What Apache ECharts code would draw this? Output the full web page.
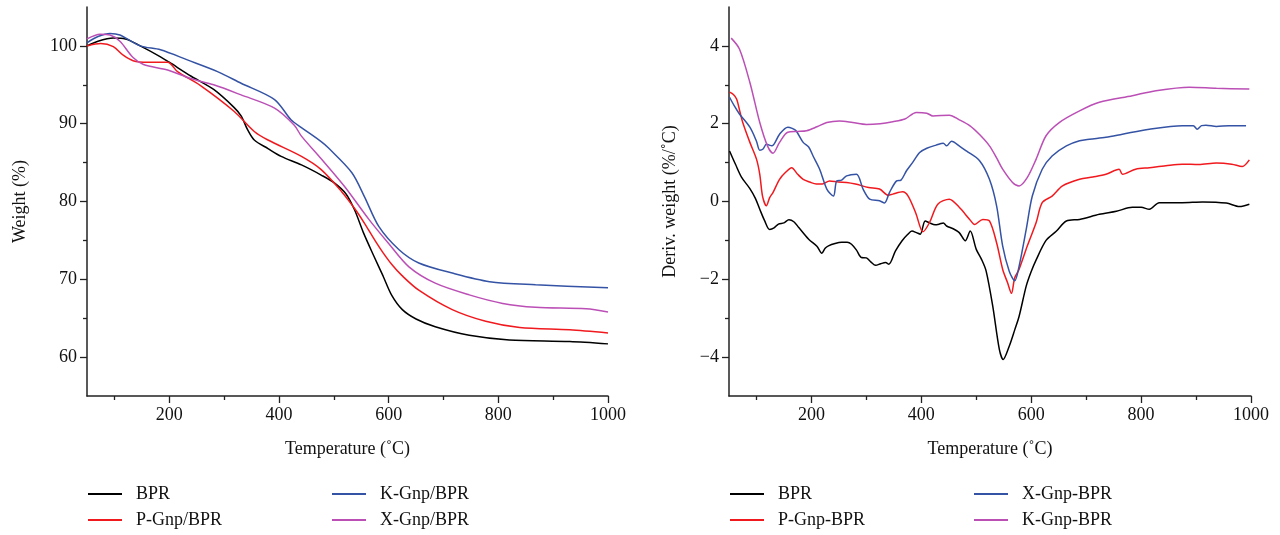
<!DOCTYPE html>
<html><head><meta charset="utf-8">
<script src="https://cdn.jsdelivr.net/npm/echarts@6/dist/echarts.min.js"></script>
<style>html,body{margin:0;padding:0;background:#fff}#c{width:1280px;height:535px}</style>
</head><body><div id="c"></div>
<script>
// ---- Left panel: TGA (Weight %) ----
const tgaNames = ['BPR','P-Gnp/BPR','K-Gnp/BPR','X-Gnp/BPR'];
const tgaBPR = [[50,100.0],[70,100.6],[98,101.0],[120,100.9],[147,100.0],[184,98.6],[200,97.9],[240,96.1],[281,94.4],[318,92.1],[331,91.0],[343,89.2],[355,87.9],[380,86.8],[404,85.8],[441,84.7],[477,83.4],[501,82.4],[522,81.0],[538,78.9],[554,76.0],[573,73.0],[590,70.4],[606,67.9],[625,66.1],[650,64.9],[685,63.9],[747,62.8],[820,62.2],[930,62.0],[1000,61.7]];
const tgaP = [[50,100.0],[75,100.3],[98,99.9],[116,98.8],[134,98.1],[160,97.9],[197,97.9],[215,96.7],[257,94.9],[318,91.6],[355,89.0],[380,87.9],[441,85.8],[477,84.1],[514,81.3],[538,79.1],[556,77.2],[575,75.0],[590,73.4],[607,71.8],[624,70.5],[655,68.6],[716,66.1],[777,64.6],[839,63.8],[930,63.5],[1000,63.1]];
const tgaK = [[50,100.4],[70,101.2],[92,101.6],[110,101.4],[147,100.0],[184,99.5],[233,98.2],[288,96.7],[331,95.2],[392,93.1],[422,90.5],[441,89.5],[477,87.7],[490,86.9],[533,83.7],[556,80.6],[582,76.8],[619,73.8],[655,72.1],[716,70.8],[784,69.7],[868,69.3],[1000,68.9]];
const tgaX = [[50,100.9],[74,101.5],[92,101.4],[110,100.6],[134,98.5],[153,97.6],[197,96.9],[239,95.8],[281,95.0],[331,93.7],[392,92.0],[428,89.8],[441,88.4],[477,85.5],[520,81.9],[564,77.7],[600,74.6],[637,71.6],[685,69.5],[747,68.0],[808,66.9],[868,66.4],[960,66.2],[1000,65.8]];

// ---- Right panel: DTG (Deriv. weight %/°C) ----
const dtgNames = ['BPR','P-Gnp-BPR','X-Gnp-BPR','K-Gnp-BPR'];
const dtgBPR = [[51,1.30],[62,0.95],[73,0.62],[88,0.33],[98,0.08],[106,-0.2],[115,-0.5],[124,-0.72],[132,-0.68],[140,-0.58],[150,-0.55],[159,-0.47],[168,-0.52],[177,-0.67],[195,-0.97],[210,-1.15],[219,-1.33],[225,-1.2],[231,-1.14],[243,-1.08],[255,-1.05],[265,-1.05],[273,-1.10],[282,-1.25],[291,-1.44],[300,-1.45],[308,-1.55],[317,-1.64],[326,-1.60],[335,-1.57],[341,-1.61],[353,-1.27],[365,-1.01],[375,-0.85],[383,-0.76],[391,-0.80],[398,-0.84],[407,-0.50],[415,-0.55],[425,-0.6],[433,-0.58],[440,-0.55],[446,-0.63],[458,-0.70],[469,-0.80],[480,-1.01],[489,-0.76],[500,-1.23],[510,-1.5],[518,-1.79],[530,-2.69],[542,-3.80],[549,-4.06],[560,-3.72],[570,-3.3],[578,-2.95],[591,-2.17],[600,-1.8],[609,-1.5],[627,-1.0],[646,-0.76],[664,-0.50],[688,-0.46],[724,-0.33],[755,-0.25],[784,-0.15],[800,-0.15],[815,-0.20],[833,-0.03],[875,-0.03],[912,-0.01],[955,-0.04],[979,-0.13],[997,-0.07]];
const dtgP = [[51,2.81],[58,2.75],[64,2.63],[70,2.3],[75,2.03],[88,1.52],[100,1.09],[106,0.7],[111,0.14],[118,-0.11],[124,0.1],[130,0.23],[142,0.57],[153,0.75],[164,0.87],[175,0.7],[185,0.57],[197,0.5],[209,0.45],[220,0.45],[233,0.53],[249,0.5],[264,0.49],[280,0.45],[304,0.36],[324,0.32],[340,0.16],[348,0.19],[366,0.25],[376,0.14],[390,-0.3],[403,-0.78],[415,-0.54],[430,-0.07],[451,0.06],[469,-0.15],[488,-0.46],[497,-0.59],[512,-0.46],[524,-0.50],[537,-1.06],[548,-1.74],[557,-2.09],[564,-2.36],[570,-1.96],[578,-1.74],[593,-1.14],[609,-0.54],[620,-0.03],[638,0.14],[657,0.40],[688,0.57],[712,0.63],[736,0.70],[760,0.83],[766,0.70],[790,0.83],[815,0.87],[845,0.92],[875,0.96],[905,0.95],[937,0.99],[965,0.96],[984,0.90],[997,1.07]];
const dtgX = [[51,2.68],[60,2.45],[69,2.25],[88,1.91],[100,1.55],[106,1.32],[112,1.35],[118,1.47],[128,1.43],[142,1.73],[157,1.91],[165,1.88],[172,1.82],[185,1.52],[195,1.4],[203,1.17],[215,0.83],[228,0.32],[240,0.14],[246,0.53],[255,0.55],[264,0.66],[282,0.70],[294,0.32],[306,0.06],[324,0.02],[333,-0.04],[342,0.23],[355,0.53],[363,0.55],[373,0.79],[384,1.0],[397,1.26],[410,1.37],[427,1.45],[440,1.50],[446,1.43],[455,1.55],[470,1.42],[482,1.30],[506,1.05],[524,0.57],[537,-0.11],[548,-1.14],[560,-1.79],[570,-2.04],[578,-1.66],[591,-0.71],[602,0.14],[620,0.83],[638,1.17],[664,1.43],[688,1.56],[706,1.60],[736,1.65],[766,1.73],[815,1.86],[875,1.95],[895,1.95],[902,1.86],[910,1.95],[918,1.96],[937,1.93],[960,1.95],[991,1.95]];
const dtgK = [[54,4.20],[69,3.92],[88,3.06],[106,2.03],[120,1.43],[130,1.24],[142,1.52],[157,1.78],[175,1.80],[191,1.82],[210,1.92],[228,2.03],[251,2.07],[275,2.03],[300,1.98],[325,2.0],[348,2.05],[370,2.12],[391,2.29],[410,2.27],[421,2.20],[451,2.22],[469,2.10],[488,1.95],[506,1.72],[524,1.43],[537,1.12],[548,0.83],[566,0.49],[578,0.40],[593,0.62],[609,1.09],[627,1.69],[651,2.03],[688,2.33],[724,2.55],[784,2.72],[827,2.85],[888,2.94],[937,2.91],[997,2.89]];

// ---- Tick labels ----
const xMajor = [200,400,600,800,1000];
const xMinor = [100,300,500,700,900];
const yTgaMajor = [60,70,80,90,100];
const yTgaMinor = [65,75,85,95];
const yDtgMajor = [-4,-2,0,2,4];
const yDtgMinor = [-3,-1,1,3];

const C = {black:'#000000', red:'#f0191e', blue:'#3553a5', purple:'#bb4fb6'};
const FONT = '"Liberation Serif","DejaVu Serif",serif';
const axisLine = {show:true, onZero:false, lineStyle:{color:'#222', width:1.5}};
const tickStyle = {color:'#222', width:1.3};
const fmt = v => String(v).replace('-', '\u2212');

function xAxes(gi){
  return [
    {type:'value', gridIndex:gi, min:50, max:1000, axisLine,
     axisTick:{show:true, customValues:xMajor, length:7, lineStyle:tickStyle},
     axisLabel:{customValues:xMajor, formatter:v => String(v), fontFamily:FONT, fontSize:18, color:'#111', margin:10},
     splitLine:{show:false},
     name:'Temperature (˚C)', nameLocation:'middle', nameGap:44,
     nameTextStyle:{fontFamily:FONT, fontSize:18, color:'#111'}},
    {type:'value', gridIndex:gi, min:50, max:1000, position:'bottom', axisLine:{show:false, onZero:false},
     axisTick:{show:true, customValues:xMinor, length:4, lineStyle:tickStyle},
     axisLabel:{show:false}, splitLine:{show:false}}
  ];
}
function yAxes(gi, min, max, major, minor, name, gap){
  return [
    {type:'value', gridIndex:gi, min, max, axisLine,
     axisTick:{show:true, customValues:major, length:7, lineStyle:tickStyle},
     axisLabel:{customValues:major, formatter:fmt, fontFamily:FONT, fontSize:18, color:'#111', margin:10},
     splitLine:{show:false},
     name, nameLocation:'middle', nameGap:gap,
     nameTextStyle:{fontFamily:FONT, fontSize:18, color:'#111'}},
    {type:'value', gridIndex:gi, min, max, position:'left', axisLine:{show:false, onZero:false},
     axisTick:{show:true, customValues:minor, length:4, lineStyle:tickStyle},
     axisLabel:{show:false}, splitLine:{show:false}}
  ];
}
function line(name, data, color, xi, yi){
  return {type:'line', name, data, xAxisIndex:xi, yAxisIndex:yi, showSymbol:false, symbol:'none',
    smooth:0.3, lineStyle:{color, width:1.5}, itemStyle:{color}, z:3};
}
function legend(left, names){
  return {left, top:485, orient:'vertical', padding:0, data:names, icon:'rect', itemWidth:34, itemHeight:2, itemGap:8,
    selectedMode:false,
    textStyle:{fontFamily:FONT, fontSize:18, color:'#111', lineHeight:18, padding:[0,0,0,9]}};
}

const option = {
  animation:false,
  backgroundColor:'#fff',
  grid:[
    {left:87, right:672, top:7, bottom:139},
    {left:729, right:29, top:7, bottom:139}
  ],
  xAxis:[...xAxes(0), ...xAxes(1)],
  yAxis:[...yAxes(0,55,105,yTgaMajor,yTgaMinor,'Weight (%)',58), ...yAxes(1,-5,5,yDtgMajor,yDtgMinor,'Deriv. weight (%/˚C)',50)],
  legend:[
    legend(88, [tgaNames[0], tgaNames[1]]),
    legend(332, [tgaNames[2], tgaNames[3]]),
    legend(730, [dtgNames[0], dtgNames[1]]),
    legend(974, [dtgNames[2], dtgNames[3]])
  ],
  series:[
    line(tgaNames[0], tgaBPR, C.black, 0, 0),
    line(tgaNames[1], tgaP, C.red, 0, 0),
    line(tgaNames[2], tgaK, C.blue, 0, 0),
    line(tgaNames[3], tgaX, C.purple, 0, 0),
    line(dtgNames[0], dtgBPR, C.black, 2, 2),
    line(dtgNames[1], dtgP, C.red, 2, 2),
    line(dtgNames[2], dtgX, C.blue, 2, 2),
    line(dtgNames[3], dtgK, C.purple, 2, 2)
  ]
};
echarts.init(document.getElementById('c'), null, {renderer:'canvas'}).setOption(option);
</script></body></html>
